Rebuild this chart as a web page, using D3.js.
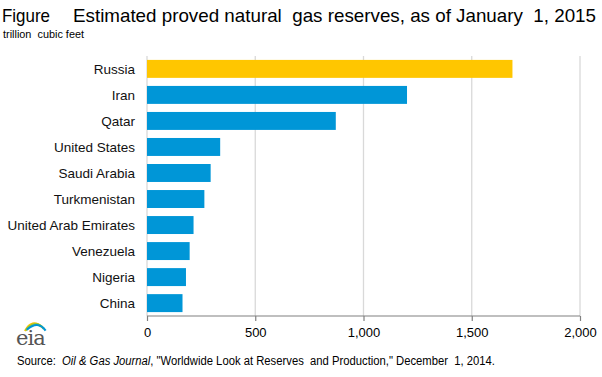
<!DOCTYPE html>
<html>
<head>
<meta charset="utf-8">
<script src="https://cdn.jsdelivr.net/npm/d3@7"></script>
<style>
  body { margin: 0; background: #fff; }
  svg { font-family: Arial, "Liberation Sans", sans-serif; }
  svg text { white-space: pre; }
</style>
</head>
<body>
<div id="chart"></div>
<script>
const countries = ['Russia', 'Iran', 'Qatar', 'United States', 'Saudi Arabia', 'Turkmenistan',
  'United Arab Emirates', 'Venezuela', 'Nigeria', 'China'];
const reserves = [1688, 1201, 872, 338, 294, 265, 215, 197, 180, 164];
const xTicks = [0, 500, 1000, 1500, 2000];

const W = 602, H = 377;
const margin = {top: 56, right: 22, bottom: 61, left: 147};
const width = W - margin.left - margin.right,
      height = H - margin.top - margin.bottom;

const svg = d3.select('#chart').append('svg')
  .attr('width', W).attr('height', H);

// titles
svg.append('text').attr('x', 2).attr('y', 22)
  .style('font-size', '19px').attr('fill', '#000')
  .attr('textLength', 48).attr('lengthAdjust', 'spacingAndGlyphs')
  .text('Figure');
svg.append('text').attr('x', 73).attr('y', 22)
  .style('font-size', '19px').attr('fill', '#000')
  .attr('textLength', 523).attr('lengthAdjust', 'spacingAndGlyphs')
  .text('Estimated proved natural  gas reserves, as of January  1, 2015');

svg.append('text').attr('x', 3).attr('y', 38)
  .style('font-size', '11.5px').attr('fill', '#000')
  .attr('textLength', 81).attr('lengthAdjust', 'spacingAndGlyphs')
  .text('trillion  cubic feet');

const g = svg.append('g')
  .attr('transform', `translate(${margin.left},${margin.top})`);

const x = d3.scaleLinear().domain([0, 2000]).range([0, width]);
const y = d3.scaleBand().domain(countries).range([0, height]).paddingInner(0.31).paddingOuter(0.15);

// gridlines
g.selectAll('.grid').data(xTicks).enter().append('line')
  .attr('class', 'grid')
  .attr('x1', d => x(d)).attr('x2', d => x(d))
  .attr('y1', 0).attr('y2', height)
  .attr('stroke', '#d9d9d9').attr('stroke-width', 1.3);

// bars
g.selectAll('.bar').data(countries).enter().append('rect')
  .attr('class', 'bar')
  .attr('x', x(0))
  .attr('y', d => y(d))
  .attr('height', y.bandwidth())
  .attr('width', (d, i) => x(reserves[i]) - x(0))
  .attr('fill', (d, i) => i === 0 ? '#ffc600' : '#0096d7');

// x axis
const xAxis = g.append('g')
  .attr('transform', `translate(0,${height})`)
  .call(d3.axisBottom(x).tickValues(xTicks).tickSize(5).tickPadding(7)
    .tickFormat(d3.format(',')));
xAxis.select('.domain').attr('stroke', '#808080').attr('stroke-width', 1.2)
  .attr('d', `M0,0H${width}`);
xAxis.selectAll('.tick line').attr('stroke', '#808080').attr('stroke-width', 1.2);
xAxis.selectAll('.tick text').style('font-size', '13px').attr('fill', '#000')
  .style('font-family', 'Arial, "Liberation Sans", sans-serif');

// category labels
g.selectAll('.lab').data(countries).enter().append('text')
  .attr('x', -12)
  .attr('y', d => y(d) + y.bandwidth() / 2)
  .attr('dy', '0.35em')
  .attr('text-anchor', 'end')
  .style('font-size', '13.5px')
  .attr('fill', '#111')
  .text(d => d);

// source
const src = svg.append('text').attr('x', 17).attr('y', 365)
  .style('font-size', '12.5px').attr('fill', '#000')
  .attr('textLength', 478).attr('lengthAdjust', 'spacingAndGlyphs');
src.append('tspan').text('Source:  ');
src.append('tspan').style('font-style', 'italic').text('Oil & Gas Journal');
src.append('tspan').text(', "Worldwide Look at Reserves  and Production," December  1, 2014.');

// eia logo
const logo = svg.append('g');
const arcs = [['#f5c400', 0], ['#8dc63f', 3], ['#0096d7', 6]];
arcs.forEach(([c, o]) => {
  logo.append('path')
    .attr('d', `M${25 + o * 0.3},${331 - o * 0.2} Q${32 + o},${318 + o * 0.3} ${42 + o * 0.6},${327 + o * 0.6}`)
    .attr('fill', 'none').attr('stroke', c).attr('stroke-width', 2.2);
});
logo.append('text').attr('x', 16).attr('y', 345)
  .style('font-family', '"DejaVu Serif", "Liberation Serif", serif')
  .style('font-size', '21px').attr('fill', '#555')
  .style('letter-spacing', '-1px')
  .text('eia');
</script>
</body>
</html>
